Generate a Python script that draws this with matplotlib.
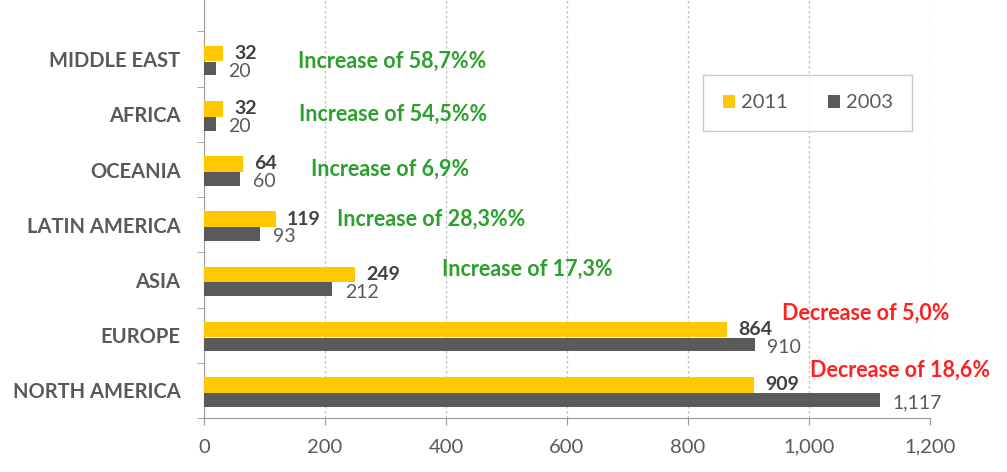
import matplotlib
matplotlib.use("Agg")
import matplotlib.pyplot as plt
from matplotlib.ticker import FixedLocator, FuncFormatter
import numpy as np

regions = ["NORTH AMERICA", "EUROPE", "ASIA", "LATIN AMERICA",
           "OCEANIA", "AFRICA", "MIDDLE EAST"]
values_2011 = [909, 864, 249, 119, 64, 32, 32]
values_2003 = [1117, 910, 212, 93, 60, 20, 20]
notes = ["Decrease of 18,6%", "Decrease of 5,0%", "Increase of 17,3%",
         "Increase of 28,3%%", "Increase of 6,9%", "Increase of 54,5%%",
         "Increase of 58,7%%"]
note_x = [1001, 955, 393, 220, 177, 157, 156]
note_dy = [0.36, 0.39, 0.2, 0.1, 0.0, 0.0, -0.04]

YELLOW = "#FFC800"
DARK = "#5A5A5A"
TEXT = "#595959"
GREEN = "#2CA02C"
RED = "#FF2020"

plt.rcParams["font.family"] = ["Lato", "DejaVu Sans"]

fig = plt.figure(figsize=(10.07, 4.72), dpi=100)
ax = fig.add_axes([0.2026, 0.1144, 0.7209, 0.8856])

y = np.arange(len(regions))
h = 0.28
ax.barh(y + 0.1, values_2011, height=h, color=YELLOW, label="2011", zorder=3)
ax.barh(y - 0.17, values_2003, height=h - 0.03, color=DARK, label="2003", zorder=3)

for i in range(len(regions)):
    ax.annotate(f"{values_2011[i]:,}", (values_2011[i], y[i] + 0.1),
                xytext=(8, 0), textcoords="offset points", va="center",
                ha="left", fontsize=14, fontweight="bold", color="#404040")
    ax.annotate(f"{values_2003[i]:,}", (values_2003[i], y[i] - 0.17),
                xytext=(9, -2), textcoords="offset points", va="center",
                ha="left", fontsize=14, color=TEXT)
    ax.text(note_x[i], y[i] + note_dy[i], notes[i], ha="left", va="center",
            fontsize=15.5, fontweight="bold",
            color=RED if notes[i].startswith("Decrease") else GREEN,
            clip_on=False)

ax.set_xlim(0, 1200)
ax.set_ylim(-0.5, 7.07)
ax.xaxis.set_major_locator(FixedLocator(range(0, 1201, 200)))
ax.xaxis.set_major_formatter(FuncFormatter(lambda v, p: f"{int(v):,}"))
ax.set_yticks(y)
ax.set_yticklabels(regions, fontsize=14.5, fontweight="bold", color=TEXT)
ax.yaxis.set_minor_locator(FixedLocator(np.arange(-0.5, 6.6, 1.0)))
ax.tick_params(axis="y", which="major", length=0, pad=17)
ax.tick_params(axis="y", which="minor", length=5, color="#999999")
ax.tick_params(axis="x", length=5, color="#999999", labelcolor=TEXT,
               labelsize=14.5, pad=10)

ax.grid(axis="x", color="#BFBFBF", linestyle=(0, (2, 2)), linewidth=0.9, zorder=0)
for side in ["top", "right"]:
    ax.spines[side].set_visible(False)
for side in ["left", "bottom"]:
    ax.spines[side].set_color("#999999")

leg = ax.legend(loc="upper left", bbox_to_anchor=(0.688, 0.82), ncol=2,
                frameon=True, fancybox=False, fontsize=14.5, handlelength=0.6,
                handleheight=0.6, columnspacing=2.0, handletextpad=0.3,
                borderpad=0.95, borderaxespad=0)
leg.get_frame().set_edgecolor("#BFBFBF")
leg.get_frame().set_linewidth(1.0)
for t in leg.get_texts():
    t.set_color(TEXT)

fig.savefig("out.png", dpi=100)
